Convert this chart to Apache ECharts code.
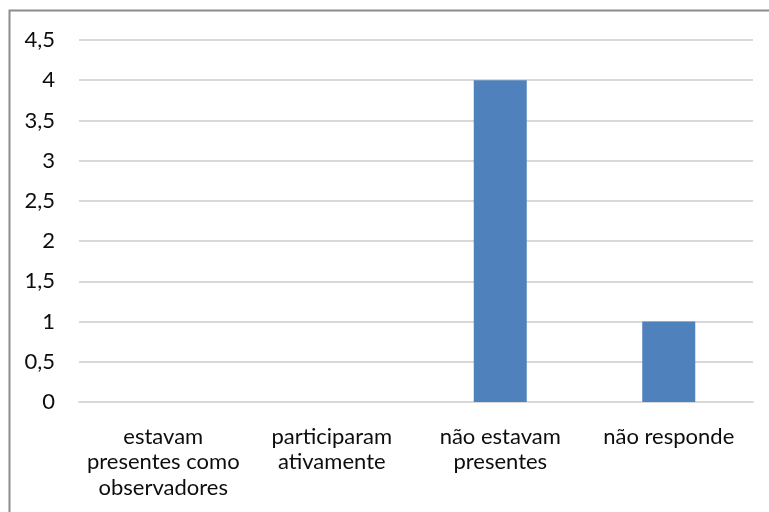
<!DOCTYPE html>
<html>
<head>
<meta charset="utf-8">
<script src="https://cdn.jsdelivr.net/npm/echarts@6/dist/echarts.min.js"></script>
<style>
  html, body { margin: 0; padding: 0; background: #fff; }
  #chart { width: 769px; height: 512px; }
</style>
</head>
<body>
<div id="chart"></div>
<script>
  // categorias (quebras de linha como no original)
  var categorias = ['estavam\npresentes como\nobservadores', 'participaram\nativamente', 'não estavam\npresentes', 'não responde'];
  var valores = [0, 0, 4, 1];

  var chart = echarts.init(document.getElementById('chart'));
  var option = {
    animation: false,
    textStyle: { fontFamily: 'Lato' },
    grid: { left: 79, right: 16, top: 40, bottom: 110 },
    graphic: [{
      type: 'rect',
      shape: { x: 9.5, y: 10.5, width: 900, height: 700 },
      style: { fill: 'none', stroke: '#8c8c8c', lineWidth: 2 },
      silent: true
    }],
    xAxis: {
      type: 'category',
      data: categorias,
      axisLine: { lineStyle: { color: '#d9d9d9', width: 2 } },
      axisTick: { show: false },
      axisLabel: {
        color: '#0d0d0d',
        fontSize: 22,
        lineHeight: 25.5,
        margin: 22,
        interval: 0
      }
    },
    yAxis: {
      type: 'value',
      min: 0,
      max: 4.5,
      interval: 0.5,
      axisLine: { show: false },
      axisTick: { show: false },
      splitLine: { lineStyle: { color: '#d9d9d9', width: 2 } },
      axisLabel: {
        color: '#0d0d0d',
        fontSize: 22,
        margin: 24,
        formatter: function (v) { return String(v).replace('.', ','); }
      }
    },
    series: [{
      type: 'bar',
      data: valores,
      barWidth: 53,
      itemStyle: { color: '#4f81bd' }
    }]
  };
  chart.setOption(option);
</script>
</body>
</html>
